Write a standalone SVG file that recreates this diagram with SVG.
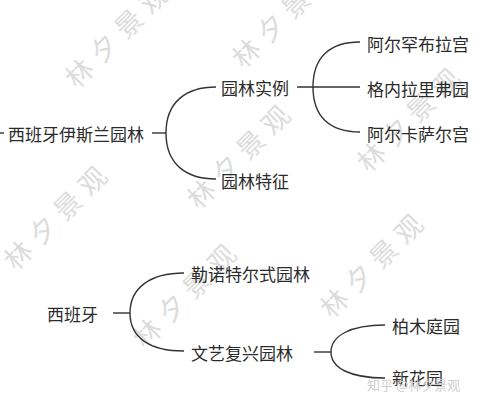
<svg xmlns="http://www.w3.org/2000/svg" width="482" height="410" viewBox="0 0 482 410">
<style>
.t{font-family:"Noto Sans CJK SC","Noto Sans",sans-serif;font-size:17px;fill:#2b2b2b;dominant-baseline:central}
.c{fill:none;stroke:#333;stroke-width:1.4}
.wm{font-family:"Noto Sans CJK SC",sans-serif;font-size:27px;fill:#dcdcdc;text-anchor:middle;dominant-baseline:central;letter-spacing:8px}
.sig{font-family:"Noto Sans CJK SC",sans-serif;font-size:13px;fill:#d0d0d0;dominant-baseline:central}
</style>
<rect width="482" height="410" fill="#fff"/>
<g id="watermarks">
<text class="wm" transform="translate(118,32) rotate(-45)">林夕景观</text>
<text class="wm" transform="translate(285,12) rotate(-45)">林夕景观</text>
<text class="wm" transform="translate(240,153) rotate(-45)">林夕景观</text>
<text class="wm" transform="translate(57,214) rotate(-45)">林夕景观</text>
<text class="wm" transform="translate(410,116) rotate(-45)">林夕景观</text>
<text class="wm" transform="translate(373,262) rotate(-45)">林夕景观</text>
<text class="wm" transform="translate(186,292) rotate(-45)">林夕景观</text>
</g>
<g id="connectors">
<path class="c" d="M0,133 H4"/>
<path class="c" d="M152,133 H166"/>
<path class="c" d="M166,133 C166,102 186,87 216,87"/>
<path class="c" d="M166,133 C166,164 186,179 216,179"/>
<path class="c" d="M297,87 H360"/>
<path class="c" d="M313,87 C313,57 330,42 360,42"/>
<path class="c" d="M313,87 C313,117 330,132 360,132"/>
<path class="c" d="M113,313 H130"/>
<path class="c" d="M130,313 C130,288 150,273 184,273"/>
<path class="c" d="M130,313 C130,338 150,351 184,351"/>
<path class="c" d="M314,352 H331"/>
<path class="c" d="M331,352 C331,336 350,325 385,325"/>
<path class="c" d="M331,352 C331,368 350,378 385,378"/>
</g>
<g id="n-root1"><text class="t" x="8" y="133">西班牙伊斯兰园林</text></g>
<g id="n-examples"><text class="t" x="221" y="87">园林实例</text></g>
<g id="n-features"><text class="t" x="221" y="180">园林特征</text></g>
<g id="n-alhambra"><text class="t" x="367" y="43">阿尔罕布拉宫</text></g>
<g id="n-generalife"><text class="t" x="367" y="88">格内拉里弗园</text></g>
<g id="n-alcazar"><text class="t" x="367" y="133">阿尔卡萨尔宫</text></g>
<g id="n-root2"><text class="t" x="47" y="313">西班牙</text></g>
<g id="n-lenotre"><text class="t" x="191" y="273">勒诺特尔式园林</text></g>
<g id="n-renaissance"><text class="t" x="191" y="352">文艺复兴园林</text></g>
<g id="n-cypress"><text class="t" x="392" y="325">柏木庭园</text></g>
<g id="n-newgarden"><text class="t" x="392" y="377">新花园</text></g>
<text class="sig" x="367" y="384">知乎 @林夕景观</text>
</svg>
